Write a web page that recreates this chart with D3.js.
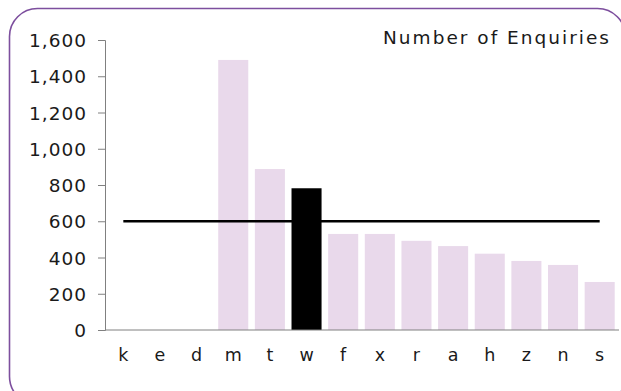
<!DOCTYPE html>
<html><head><meta charset="utf-8">
<script src="https://cdn.jsdelivr.net/npm/d3@7"></script>
<style>html,body{margin:0;padding:0;background:#fff;}svg{display:block;}</style>
</head><body>
<script>
const categories = ["k","e","d","m","t","w","f","x","r","a","h","z","n","s"];
const enquiries = [0,0,0,1490,888,782,530,530,492,463,421,381,359,265];
const highlight = ["w"];
const targetValues = [600,600,600,600,600,600,600,600,600,600,600,600,600,600];
const yTicks = [0,200,400,600,800,1000,1200,1400,1600];
const title = "Number of Enquiries";

const W = 621, H = 391;
const svg = d3.select("body").append("svg").attr("width", W).attr("height", H);
const font = "'DejaVu Sans', sans-serif";

svg.append("rect").attr("x", 9.5).attr("y", 8.5).attr("width", 616).attr("height", 396)
  .attr("rx", 28).attr("ry", 28).attr("fill", "none").attr("stroke", "#7d4f9e").attr("stroke-width", 1.6);

const x = d3.scaleBand().domain(categories).range([105, 618]).paddingInner(0.18).paddingOuter(0.09);
const y = d3.scaleLinear().domain([0, 1600]).range([330, 40]);

// bars
svg.append("g").selectAll("rect").data(categories).join("rect")
  .attr("x", d => x(d)).attr("width", x.bandwidth())
  .attr("y", (d,i) => y(enquiries[i])).attr("height", (d,i) => y(0) - y(enquiries[i]))
  .attr("fill", d => highlight.includes(d) ? "#000" : "#e9d9eb");

// target line
const line = d3.line().x((d,i) => x(categories[i]) + x.bandwidth()/2).y(d => y(d));
svg.append("path").datum(targetValues).attr("d", line)
  .attr("fill", "none").attr("stroke", "#000").attr("stroke-width", 2.5);

// y axis
const yAxis = svg.append("g").attr("transform", "translate(105,0)")
  .call(d3.axisLeft(y).tickValues(yTicks).tickSize(7).tickPadding(11).tickFormat(d3.format(",")));
yAxis.select(".domain").attr("stroke", "#808080");
yAxis.selectAll(".tick line").attr("stroke", "#808080");
yAxis.selectAll("text").attr("font-family", font).attr("font-size", 18.5).attr("fill", "#1a1a1a")
  .attr("letter-spacing", "1px").attr("dy", "0.36em");

// x axis
const xAxis = svg.append("g").attr("transform", "translate(0,330)")
  .call(d3.axisBottom(x).tickSize(0).tickPadding(19));
xAxis.select(".domain").attr("stroke", "#808080").attr("d", "M105,0H619");
xAxis.selectAll("text").attr("font-family", font).attr("font-size", 17.5).attr("fill", "#1a1a1a");

// title
svg.append("text").attr("x", 609).attr("y", 44).attr("text-anchor", "end")
  .attr("font-family", font).attr("font-size", 18.5).attr("fill", "#1a1a1a")
  .attr("textLength", 226).attr("lengthAdjust", "spacing").text(title);
</script>
</body></html>
